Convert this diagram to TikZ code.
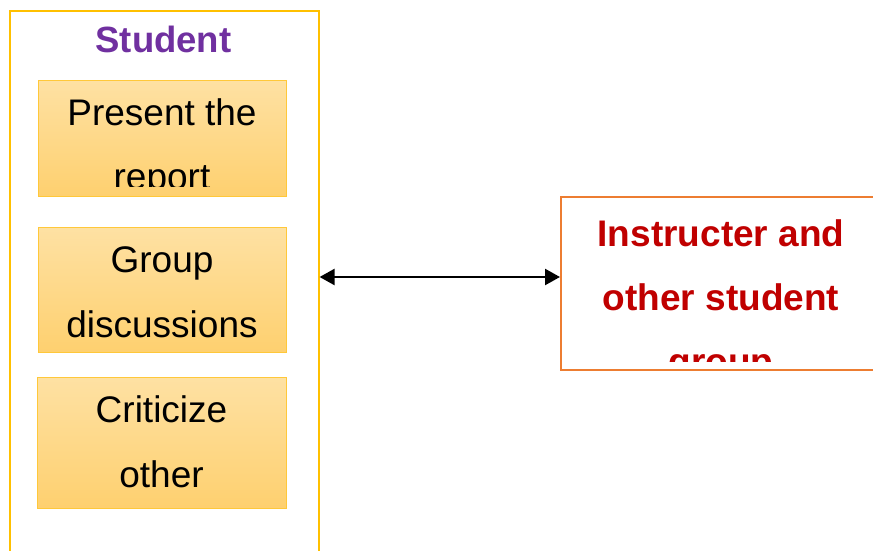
\documentclass[tikz,border=0pt]{standalone}
\usepackage{fontspec}
\setmainfont{Liberation Sans}
\usetikzlibrary{arrows.meta}
\definecolor{gold}{HTML}{FFC000}
\definecolor{boxline}{HTML}{FFC83A}
\definecolor{boxtop}{HTML}{FEE1A3}
\definecolor{boxbot}{HTML}{FED06F}
\definecolor{orangeline}{HTML}{ED7D31}
\definecolor{titlepurple}{HTML}{7030A0}
\definecolor{darkred}{HTML}{C00000}
\tikzset{
  frame/.style={draw=gold, line width=1.6pt, fill=white, inner sep=0pt},
  taskbox/.style={draw=boxline, line width=1.2pt, top color=boxtop, bottom color=boxbot, inner sep=0pt},
  peerbox/.style={draw=orangeline, line width=1.8pt, fill=white, inner sep=0pt},
  line/.style={anchor=base, inner sep=0pt, font=\fontsize{37}{37}\selectfont},
  redline/.style={line, font=\fontsize{37}{37}\selectfont\bfseries, text=darkred},
  link/.style={line width=2.4pt, {Triangle[length=15pt,width=16pt]}-{Triangle[length=15pt,width=16pt]}}
}
\begin{document}
\begin{tikzpicture}[x=1pt, y=-1pt]
\useasboundingbox (0,0) rectangle (873,551);

% student column
\node[frame, minimum width=309pt, minimum height=600pt, anchor=north west] (student) at (9,10) {};
\node[line, font=\fontsize{36.5}{36.5}\selectfont\bfseries, text=titlepurple] (title) at (163.5,53) {Student};

% task boxes
\node[taskbox, minimum width=248pt, minimum height=116pt, anchor=north west] (report) at (38,80) {};
\node[taskbox, minimum width=248pt, minimum height=125pt, anchor=north west] (discuss) at (38,227) {};
\node[taskbox, minimum width=249pt, minimum height=131pt, anchor=north west] (critic) at (37,377) {};

\begin{scope}
  \clip (38,80) rectangle (286,186);
  \node[line] (r1) at (162,125) {Present the};
  \node[line] (r2) at (162,189.5) {report};
\end{scope}
\begin{scope}
  \clip (38,227) rectangle (286,344);
  \node[line] (d1) at (162,272) {Group};
  \node[line] (d2) at (162,337) {discussions};
\end{scope}
\begin{scope}
  \clip (37,377) rectangle (286,500);
  \node[line] (c1) at (161.5,422) {Criticize};
  \node[line] (c2) at (161.5,487) {other};
\end{scope}

% instructor and peers
\node[peerbox, minimum width=360pt, minimum height=173pt, anchor=north west] (peers) at (560,196) {};
\begin{scope}
  \clip (560,196) rectangle (920,361);
  \node[redline] (p1) at (721,246) {Instructer and};
  \node[redline] (p2) at (721,310) {other student};
  \node[redline] (p3) at (721,374) {group};
\end{scope}

% two-way exchange
\draw[link] (student.east |- 0,277) -- (peers.west |- 0,277);
\end{tikzpicture}
\end{document}
